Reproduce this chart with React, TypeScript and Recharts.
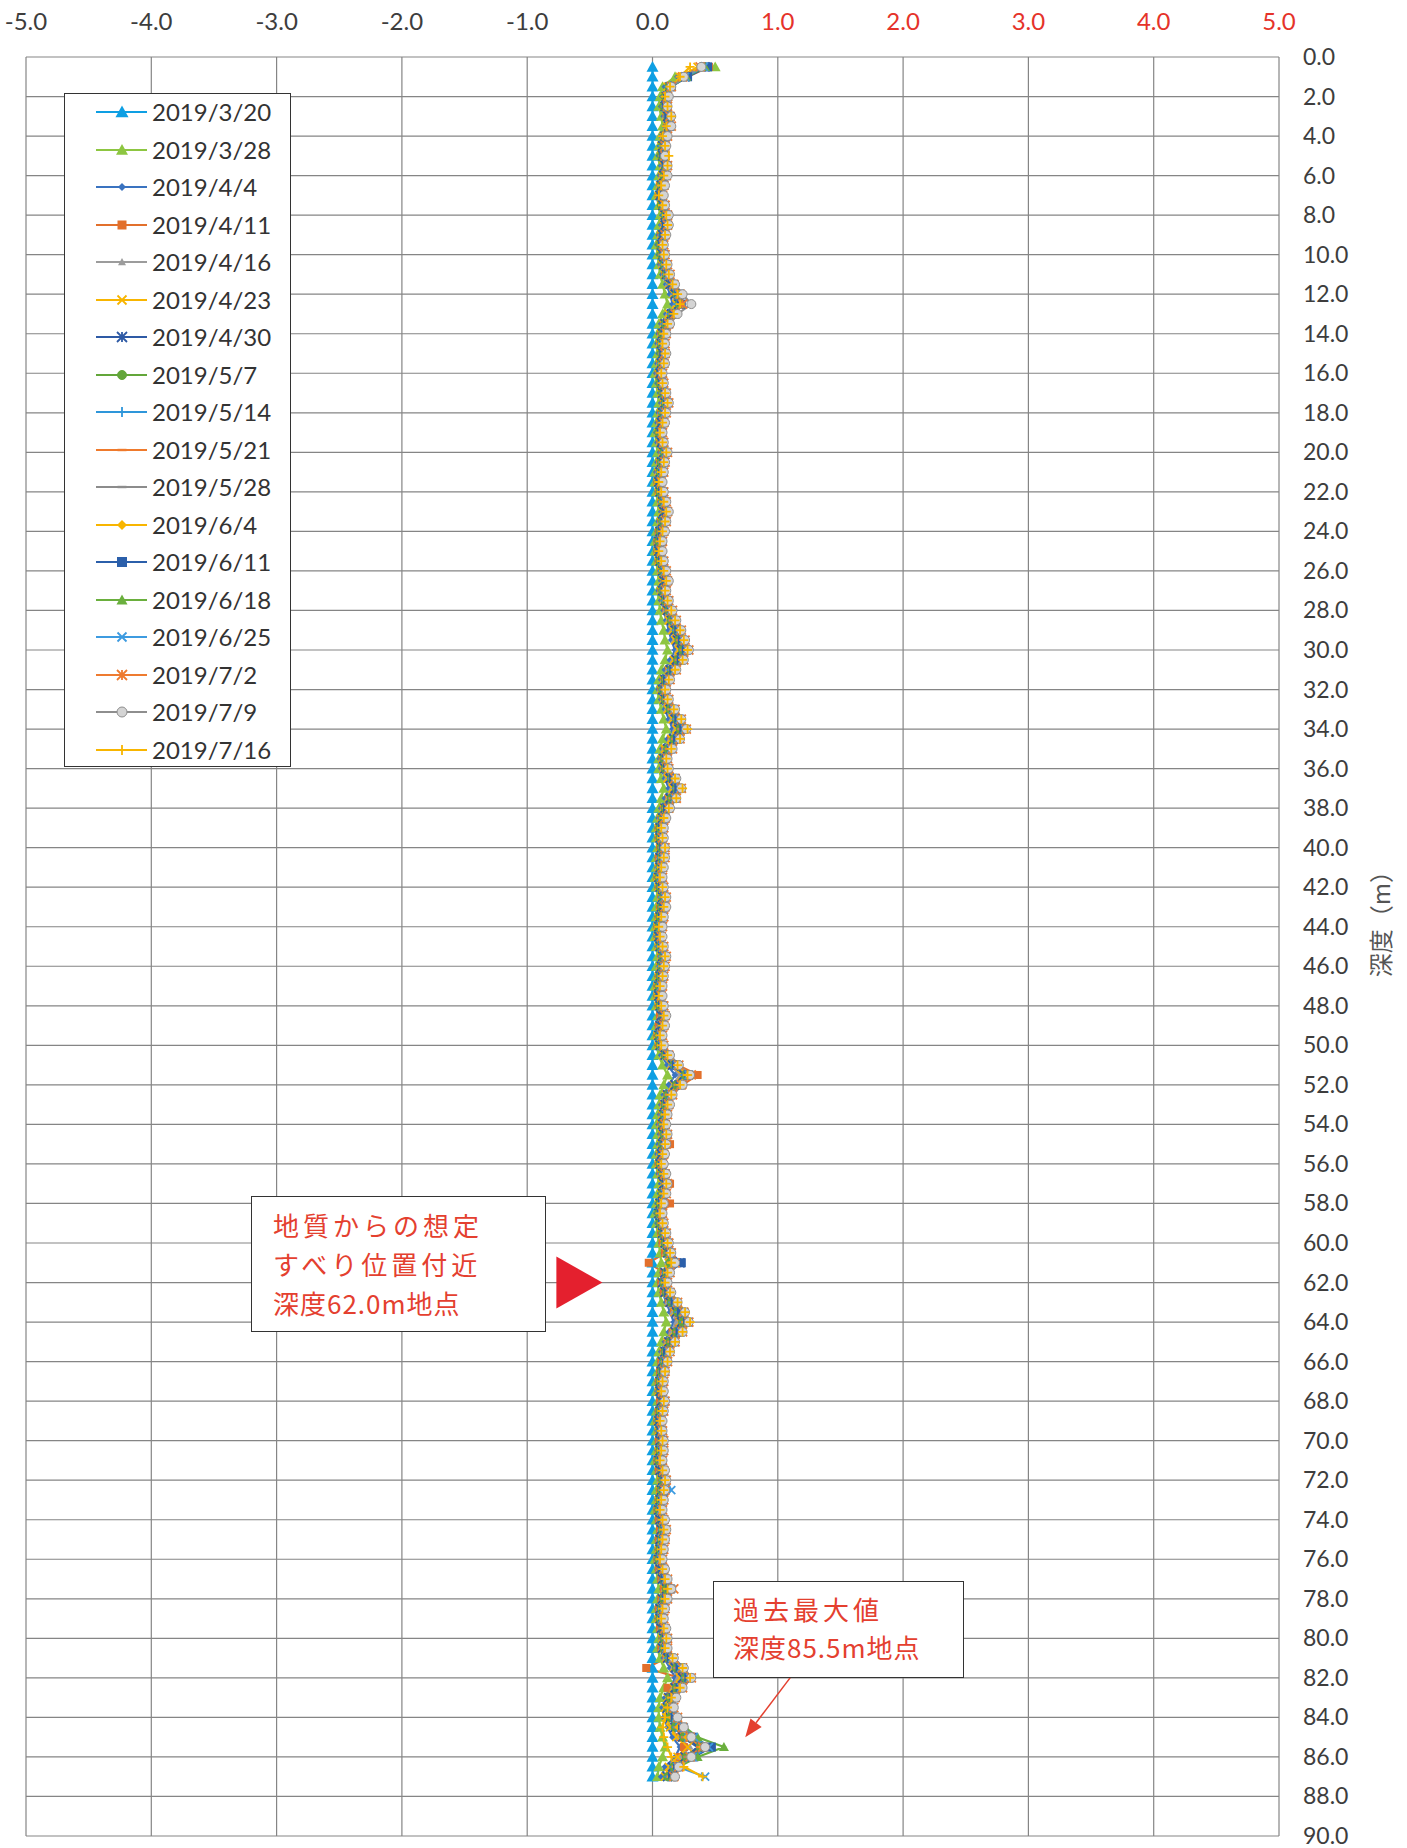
import React from 'react'
import { LineChart, Line, XAxis, YAxis, CartesianGrid, ReferenceDot, ReferenceLine } from 'recharts'

const FONT = 'Lato, "Noto Sans CJK JP", sans-serif'
const RED = '#E4402F'

// 測定深度 (m)
const DEPTHS = [
  0.5, 1, 1.5, 2, 2.5, 3, 3.5, 4, 4.5, 5, 5.5, 6, 6.5, 7, 7.5, 8, 8.5, 9, 9.5, 10,
  10.5, 11, 11.5, 12, 12.5, 13, 13.5, 14, 14.5, 15, 15.5, 16, 16.5, 17, 17.5, 18, 18.5, 19, 19.5, 20,
  20.5, 21, 21.5, 22, 22.5, 23, 23.5, 24, 24.5, 25, 25.5, 26, 26.5, 27, 27.5, 28, 28.5, 29, 29.5, 30,
  30.5, 31, 31.5, 32, 32.5, 33, 33.5, 34, 34.5, 35, 35.5, 36, 36.5, 37, 37.5, 38, 38.5, 39, 39.5, 40,
  40.5, 41, 41.5, 42, 42.5, 43, 43.5, 44, 44.5, 45, 45.5, 46, 46.5, 47, 47.5, 48, 48.5, 49, 49.5, 50,
  50.5, 51, 51.5, 52, 52.5, 53, 53.5, 54, 54.5, 55, 55.5, 56, 56.5, 57, 57.5, 58, 58.5, 59, 59.5, 60,
  60.5, 61, 61.5, 62, 62.5, 63, 63.5, 64, 64.5, 65, 65.5, 66, 66.5, 67, 67.5, 68, 68.5, 69, 69.5, 70,
  70.5, 71, 71.5, 72, 72.5, 73, 73.5, 74, 74.5, 75, 75.5, 76, 76.5, 77, 77.5, 78, 78.5, 79, 79.5, 80,
  80.5, 81, 81.5, 82, 82.5, 83, 83.5, 84, 84.5, 85, 85.5, 86, 86.5, 87,
]

const X_TICKS = [-5, -4, -3, -2, -1, 0, 1, 2, 3, 4, 5]
const Y_TICKS = [
  0, 2, 4, 6, 8, 10, 12, 14, 16, 18, 20, 22, 24, 26, 28, 30, 32, 34, 36, 38, 40, 42, 44,
  46, 48, 50, 52, 54, 56, 58, 60, 62, 64, 66, 68, 70, 72, 74, 76, 78, 80, 82, 84, 86, 88, 90,
]

// 累積変位量 (初回 3/20 を基準)
const V_0320 = [
  0, 0, 0, 0, 0, 0, 0, 0, 0, 0, 0, 0, 0, 0, 0, 0, 0, 0, 0, 0,
  0, 0, 0, 0, 0, 0, 0, 0, 0, 0, 0, 0, 0, 0, 0, 0, 0, 0, 0, 0,
  0, 0, 0, 0, 0, 0, 0, 0, 0, 0, 0, 0, 0, 0, 0, 0, 0, 0, 0, 0,
  0, 0, 0, 0, 0, 0, 0, 0, 0, 0, 0, 0, 0, 0, 0, 0, 0, 0, 0, 0,
  0, 0, 0, 0, 0, 0, 0, 0, 0, 0, 0, 0, 0, 0, 0, 0, 0, 0, 0, 0,
  0, 0, 0, 0, 0, 0, 0, 0, 0, 0, 0, 0, 0, 0, 0, 0, 0, 0, 0, 0,
  0, 0, 0, 0, 0, 0, 0, 0, 0, 0, 0, 0, 0, 0, 0, 0, 0, 0, 0, 0,
  0, 0, 0, 0, 0, 0, 0, 0, 0, 0, 0, 0, 0, 0, 0, 0, 0, 0, 0, 0,
  0, 0, 0, 0, 0, 0, 0, 0, 0, 0, 0, 0, 0, 0,
]
const V_0328 = [
  0.50, 0.18, 0.08, 0.06, 0.05, 0.07, 0.08, 0.06, 0.05, 0.04, 0.06, 0.05, 0.04, 0.03, 0.05, 0.06, 0.05, 0.04, 0.03, 0.04,
  0.05, 0.06, 0.08, 0.10, 0.12, 0.08, 0.05, 0.04, 0.03, 0.04, 0.03, 0.02, 0.03, 0.04, 0.05, 0.04, 0.03, 0.02, 0.03, 0.04,
  0.03, 0.02, 0.02, 0.03, 0.04, 0.05, 0.04, 0.03, 0.02, 0.02, 0.03, 0.04, 0.05, 0.04, 0.05, 0.06, 0.07, 0.09, 0.10, 0.12,
  0.10, 0.07, 0.05, 0.04, 0.05, 0.07, 0.09, 0.11, 0.08, 0.06, 0.05, 0.05, 0.07, 0.09, 0.07, 0.05, 0.04, 0.03, 0.03, 0.04,
  0.03, 0.03, 0.02, 0.03, 0.04, 0.03, 0.03, 0.02, 0.02, 0.03, 0.04, 0.03, 0.03, 0.02, 0.02, 0.03, 0.04, 0.03, 0.02, 0.03,
  0.05, 0.08, 0.12, 0.09, 0.06, 0.05, 0.04, 0.03, 0.04, 0.04, 0.03, 0.03, 0.04, 0.05, 0.04, 0.03, 0.02, 0.03, 0.04, 0.05,
  0.06, 0.07, 0.05, 0.04, 0.05, 0.07, 0.09, 0.11, 0.09, 0.07, 0.05, 0.04, 0.04, 0.03, 0.03, 0.04, 0.03, 0.02, 0.03, 0.03,
  0.03, 0.02, 0.03, 0.04, 0.03, 0.03, 0.02, 0.03, 0.04, 0.03, 0.03, 0.02, 0.03, 0.04, 0.05, 0.04, 0.03, 0.03, 0.04, 0.05,
  0.04, 0.06, 0.09, 0.12, 0.09, 0.06, 0.05, 0.05, 0.06, 0.08, 0.10, 0.08, 0.05, 0.04,
]
const V_0404 = [
  0.40, 0.20, 0.10, 0.08, 0.07, 0.09, 0.10, 0.07, 0.06, 0.05, 0.07, 0.06, 0.05, 0.04, 0.06, 0.08, 0.07, 0.05, 0.04, 0.05,
  0.06, 0.08, 0.11, 0.14, 0.16, 0.11, 0.07, 0.05, 0.04, 0.05, 0.04, 0.03, 0.04, 0.06, 0.07, 0.05, 0.04, 0.03, 0.04, 0.06,
  0.04, 0.03, 0.03, 0.04, 0.06, 0.07, 0.05, 0.04, 0.03, 0.03, 0.04, 0.06, 0.07, 0.05, 0.07, 0.09, 0.11, 0.13, 0.15, 0.18,
  0.14, 0.10, 0.07, 0.05, 0.07, 0.10, 0.13, 0.16, 0.12, 0.08, 0.06, 0.07, 0.10, 0.13, 0.10, 0.07, 0.05, 0.04, 0.04, 0.05,
  0.04, 0.04, 0.03, 0.04, 0.06, 0.05, 0.04, 0.03, 0.03, 0.04, 0.06, 0.05, 0.04, 0.03, 0.03, 0.04, 0.05, 0.04, 0.03, 0.04,
  0.07, 0.12, 0.18, 0.13, 0.09, 0.07, 0.06, 0.05, 0.06, 0.05, 0.04, 0.04, 0.05, 0.07, 0.06, 0.04, 0.03, 0.04, 0.06, 0.07,
  0.09, 0.12, 0.08, 0.06, 0.08, 0.11, 0.14, 0.17, 0.13, 0.10, 0.07, 0.06, 0.05, 0.04, 0.04, 0.05, 0.04, 0.03, 0.04, 0.04,
  0.04, 0.03, 0.04, 0.06, 0.05, 0.04, 0.03, 0.04, 0.05, 0.04, 0.04, 0.03, 0.04, 0.06, 0.08, 0.06, 0.04, 0.04, 0.05, 0.07,
  0.06, 0.09, 0.14, 0.18, 0.14, 0.10, 0.08, 0.09, 0.12, 0.16, 0.22, 0.18, 0.10, 0.07,
]
const V_0411 = [
  0.45, 0.28, 0.14, 0.10, 0.09, 0.11, 0.12, 0.09, 0.08, 0.07, 0.09, 0.08, 0.06, 0.05, 0.07, 0.10, 0.09, 0.07, 0.06, 0.07,
  0.08, 0.10, 0.14, 0.18, 0.20, 0.14, 0.09, 0.07, 0.06, 0.07, 0.06, 0.05, 0.06, 0.08, 0.09, 0.07, 0.06, 0.05, 0.06, 0.08,
  0.06, 0.05, 0.04, 0.05, 0.07, 0.09, 0.07, 0.05, 0.04, 0.04, 0.05, 0.07, 0.09, 0.07, 0.09, 0.11, 0.14, 0.17, 0.19, 0.22,
  0.18, 0.13, 0.09, 0.07, 0.09, 0.13, 0.17, 0.20, 0.15, 0.10, 0.08, 0.09, 0.13, 0.17, 0.13, 0.09, 0.07, 0.05, 0.05, 0.06,
  0.05, 0.05, 0.04, 0.05, 0.07, 0.06, 0.05, 0.04, 0.04, 0.05, 0.07, 0.06, 0.05, 0.04, 0.04, 0.05, 0.06, 0.05, 0.04, 0.05,
  0.10, 0.20, 0.36, 0.24, 0.12, 0.09, 0.08, 0.07, 0.08, 0.14, 0.06, 0.05, 0.07, 0.14, 0.08, 0.14, 0.07, 0.06, 0.07, 0.08,
  0.10, -0.03, 0.09, 0.07, 0.09, 0.13, 0.17, 0.21, 0.16, 0.12, 0.09, 0.07, 0.06, 0.05, 0.05, 0.06, 0.05, 0.04, 0.05, 0.05,
  0.05, 0.04, 0.05, 0.07, 0.06, 0.05, 0.04, 0.05, 0.06, 0.05, 0.05, 0.04, 0.05, 0.07, 0.09, 0.07, 0.05, 0.05, 0.06, 0.08,
  0.07, 0.11, -0.05, 0.22, 0.12, 0.14, 0.16, 0.18, 0.20, 0.22, 0.25, 0.22, 0.18, 0.15,
]
const V_0416 = [
  0.38, 0.24, 0.12, 0.09, 0.08, 0.10, 0.11, 0.08, 0.07, 0.06, 0.08, 0.07, 0.05, 0.05, 0.06, 0.09, 0.08, 0.06, 0.05, 0.06,
  0.07, 0.09, 0.12, 0.16, 0.18, 0.12, 0.08, 0.06, 0.05, 0.06, 0.05, 0.04, 0.05, 0.07, 0.08, 0.06, 0.05, 0.04, 0.05, 0.07,
  0.05, 0.04, 0.04, 0.05, 0.06, 0.08, 0.06, 0.05, 0.04, 0.04, 0.05, 0.06, 0.08, 0.06, 0.08, 0.10, 0.12, 0.15, 0.17, 0.20,
  0.16, 0.12, 0.08, 0.06, 0.08, 0.11, 0.15, 0.18, 0.14, 0.09, 0.07, 0.08, 0.11, 0.15, 0.12, 0.08, 0.06, 0.05, 0.05, 0.06,
  0.05, 0.04, 0.04, 0.05, 0.06, 0.06, 0.05, 0.04, 0.04, 0.05, 0.06, 0.05, 0.05, 0.04, 0.04, 0.05, 0.06, 0.05, 0.04, 0.05,
  0.08, 0.14, 0.22, 0.16, 0.10, 0.08, 0.07, 0.06, 0.07, 0.06, 0.05, 0.05, 0.06, 0.08, 0.07, 0.05, 0.04, 0.05, 0.07, 0.08,
  0.10, 0.12, 0.09, 0.07, 0.09, 0.12, 0.16, 0.19, 0.15, 0.11, 0.08, 0.07, 0.06, 0.05, 0.05, 0.06, 0.05, 0.04, 0.05, 0.05,
  0.05, 0.04, 0.05, 0.06, 0.06, 0.05, 0.04, 0.05, 0.06, 0.05, 0.05, 0.04, 0.05, 0.07, 0.09, 0.07, 0.05, 0.05, 0.06, 0.07,
  0.07, 0.10, 0.16, 0.20, 0.16, 0.12, 0.10, 0.12, 0.15, 0.20, 0.30, 0.22, 0.14, 0.10,
]
const V_0423 = [
  0.36, 0.22, 0.12, 0.10, 0.09, 0.11, 0.12, 0.09, 0.07, 0.07, 0.09, 0.08, 0.06, 0.05, 0.07, 0.09, 0.09, 0.07, 0.06, 0.07,
  0.08, 0.10, 0.13, 0.17, 0.19, 0.13, 0.09, 0.07, 0.06, 0.07, 0.06, 0.05, 0.06, 0.07, 0.09, 0.07, 0.06, 0.05, 0.06, 0.08,
  0.06, 0.05, 0.04, 0.05, 0.07, 0.08, 0.07, 0.06, 0.05, 0.04, 0.05, 0.07, 0.08, 0.07, 0.09, 0.11, 0.13, 0.16, 0.18, 0.21,
  0.17, 0.13, 0.09, 0.07, 0.09, 0.12, 0.16, 0.19, 0.15, 0.10, 0.08, 0.09, 0.12, 0.16, 0.13, 0.09, 0.07, 0.05, 0.05, 0.06,
  0.06, 0.05, 0.04, 0.05, 0.07, 0.06, 0.05, 0.04, 0.04, 0.05, 0.07, 0.06, 0.05, 0.04, 0.04, 0.05, 0.07, 0.06, 0.04, 0.05,
  0.09, 0.15, 0.24, 0.17, 0.11, 0.09, 0.08, 0.07, 0.08, 0.07, 0.06, 0.05, 0.07, 0.08, 0.07, 0.05, 0.05, 0.06, 0.07, 0.09,
  0.11, 0.13, 0.10, 0.08, 0.10, 0.14, 0.18, 0.22, 0.17, 0.12, 0.09, 0.08, 0.07, 0.06, 0.05, 0.07, 0.06, 0.04, 0.05, 0.06,
  0.05, 0.05, 0.06, 0.07, 0.06, 0.05, 0.05, 0.06, 0.07, 0.06, 0.05, 0.05, 0.06, 0.08, 0.10, 0.08, 0.06, 0.05, 0.07, 0.08,
  0.08, 0.11, 0.17, 0.22, 0.17, 0.12, 0.10, 0.11, 0.14, 0.19, 0.28, 0.20, 0.13, 0.10,
]
const V_0430 = [
  0.42, 0.26, 0.14, 0.11, 0.10, 0.12, 0.13, 0.10, 0.08, 0.08, 0.10, 0.09, 0.07, 0.06, 0.08, 0.10, 0.10, 0.08, 0.07, 0.08,
  0.09, 0.11, 0.14, 0.18, 0.21, 0.15, 0.10, 0.08, 0.07, 0.08, 0.07, 0.06, 0.07, 0.08, 0.10, 0.08, 0.07, 0.06, 0.07, 0.09,
  0.07, 0.06, 0.05, 0.06, 0.08, 0.09, 0.08, 0.06, 0.05, 0.05, 0.06, 0.08, 0.09, 0.08, 0.10, 0.12, 0.15, 0.18, 0.20, 0.23,
  0.19, 0.14, 0.10, 0.08, 0.10, 0.14, 0.18, 0.21, 0.17, 0.12, 0.09, 0.10, 0.14, 0.18, 0.14, 0.10, 0.08, 0.06, 0.06, 0.07,
  0.06, 0.06, 0.05, 0.06, 0.08, 0.07, 0.06, 0.05, 0.05, 0.06, 0.08, 0.07, 0.06, 0.05, 0.05, 0.06, 0.07, 0.06, 0.05, 0.06,
  0.10, 0.16, 0.25, 0.18, 0.12, 0.10, 0.09, 0.08, 0.09, 0.08, 0.07, 0.06, 0.08, 0.09, 0.08, 0.06, 0.05, 0.06, 0.08, 0.10,
  0.12, 0.22, 0.10, 0.08, 0.10, 0.14, 0.19, 0.23, 0.18, 0.13, 0.10, 0.08, 0.07, 0.06, 0.06, 0.07, 0.06, 0.05, 0.06, 0.06,
  0.06, 0.05, 0.06, 0.08, 0.07, 0.06, 0.05, 0.06, 0.07, 0.06, 0.06, 0.05, 0.06, 0.08, 0.11, 0.08, 0.06, 0.06, 0.07, 0.09,
  0.08, 0.12, 0.18, 0.24, 0.18, 0.13, 0.12, 0.14, 0.18, 0.24, 0.36, 0.26, 0.16, 0.12,
]
const V_0507 = [
  0.40, 0.25, 0.13, 0.10, 0.09, 0.12, 0.13, 0.10, 0.08, 0.07, 0.10, 0.09, 0.07, 0.06, 0.07, 0.10, 0.10, 0.08, 0.06, 0.07,
  0.09, 0.11, 0.15, 0.19, 0.21, 0.15, 0.10, 0.08, 0.07, 0.07, 0.07, 0.06, 0.06, 0.08, 0.10, 0.08, 0.07, 0.05, 0.07, 0.09,
  0.07, 0.06, 0.05, 0.06, 0.08, 0.10, 0.08, 0.06, 0.05, 0.05, 0.06, 0.08, 0.10, 0.08, 0.10, 0.13, 0.15, 0.19, 0.21, 0.24,
  0.20, 0.15, 0.10, 0.08, 0.10, 0.14, 0.19, 0.22, 0.17, 0.12, 0.09, 0.10, 0.15, 0.19, 0.15, 0.10, 0.08, 0.06, 0.06, 0.07,
  0.07, 0.06, 0.05, 0.06, 0.08, 0.07, 0.06, 0.05, 0.05, 0.06, 0.08, 0.07, 0.06, 0.05, 0.05, 0.06, 0.08, 0.07, 0.05, 0.06,
  0.10, 0.17, 0.26, 0.19, 0.12, 0.10, 0.09, 0.08, 0.09, 0.08, 0.07, 0.06, 0.08, 0.10, 0.08, 0.06, 0.05, 0.06, 0.08, 0.10,
  0.12, 0.14, 0.11, 0.09, 0.11, 0.15, 0.20, 0.24, 0.19, 0.14, 0.10, 0.09, 0.07, 0.06, 0.06, 0.08, 0.06, 0.05, 0.06, 0.07,
  0.06, 0.05, 0.07, 0.08, 0.07, 0.06, 0.05, 0.07, 0.08, 0.07, 0.06, 0.05, 0.07, 0.09, 0.11, 0.09, 0.07, 0.06, 0.08, 0.09,
  0.09, 0.13, 0.19, 0.26, 0.19, 0.14, 0.12, 0.14, 0.18, 0.25, 0.38, 0.27, 0.17, 0.12,
]
const V_0514 = [
  0.39, 0.24, 0.13, 0.11, 0.10, 0.12, 0.12, 0.09, 0.08, 0.08, 0.09, 0.09, 0.07, 0.06, 0.08, 0.10, 0.09, 0.08, 0.07, 0.08,
  0.09, 0.11, 0.14, 0.18, 0.20, 0.15, 0.10, 0.09, 0.07, 0.08, 0.07, 0.06, 0.07, 0.09, 0.10, 0.08, 0.07, 0.06, 0.07, 0.09,
  0.08, 0.06, 0.05, 0.07, 0.08, 0.10, 0.09, 0.07, 0.06, 0.05, 0.07, 0.08, 0.10, 0.09, 0.10, 0.13, 0.16, 0.19, 0.22, 0.25,
  0.21, 0.15, 0.11, 0.09, 0.11, 0.15, 0.19, 0.23, 0.18, 0.13, 0.10, 0.11, 0.15, 0.19, 0.16, 0.11, 0.08, 0.07, 0.07, 0.08,
  0.07, 0.06, 0.06, 0.07, 0.08, 0.08, 0.07, 0.06, 0.05, 0.06, 0.08, 0.07, 0.07, 0.06, 0.05, 0.07, 0.08, 0.07, 0.06, 0.07,
  0.11, 0.17, 0.26, 0.20, 0.13, 0.11, 0.09, 0.08, 0.10, 0.09, 0.07, 0.07, 0.08, 0.10, 0.09, 0.07, 0.06, 0.07, 0.09, 0.11,
  0.13, 0.15, 0.11, 0.09, 0.12, 0.16, 0.21, 0.25, 0.20, 0.15, 0.11, 0.09, 0.08, 0.07, 0.06, 0.08, 0.07, 0.05, 0.06, 0.07,
  0.07, 0.06, 0.07, 0.09, 0.08, 0.07, 0.06, 0.07, 0.08, 0.07, 0.07, 0.06, 0.07, 0.09, 0.12, 0.09, 0.07, 0.07, 0.08, 0.10,
  0.09, 0.13, 0.20, 0.26, 0.20, 0.15, 0.13, 0.15, 0.19, 0.26, 0.40, 0.28, 0.17, 0.13,
]
const V_0521 = [
  0.43, 0.27, 0.15, 0.11, 0.10, 0.13, 0.13, 0.10, 0.09, 0.08, 0.10, 0.10, 0.08, 0.06, 0.08, 0.11, 0.10, 0.09, 0.07, 0.08,
  0.10, 0.12, 0.15, 0.19, 0.22, 0.16, 0.11, 0.09, 0.08, 0.08, 0.08, 0.06, 0.07, 0.09, 0.11, 0.09, 0.07, 0.06, 0.07, 0.10,
  0.08, 0.07, 0.05, 0.07, 0.09, 0.10, 0.09, 0.07, 0.06, 0.05, 0.07, 0.09, 0.10, 0.09, 0.11, 0.13, 0.16, 0.20, 0.22, 0.25,
  0.21, 0.16, 0.11, 0.09, 0.11, 0.15, 0.20, 0.23, 0.18, 0.13, 0.10, 0.11, 0.16, 0.20, 0.16, 0.11, 0.09, 0.07, 0.07, 0.08,
  0.08, 0.07, 0.06, 0.07, 0.09, 0.08, 0.07, 0.06, 0.06, 0.07, 0.09, 0.08, 0.07, 0.06, 0.06, 0.07, 0.08, 0.07, 0.06, 0.07,
  0.11, 0.18, 0.27, 0.20, 0.13, 0.11, 0.10, 0.09, 0.10, 0.09, 0.08, 0.07, 0.09, 0.10, 0.09, 0.07, 0.06, 0.07, 0.09, 0.11,
  0.13, 0.15, 0.12, 0.10, 0.12, 0.17, 0.22, 0.26, 0.20, 0.15, 0.11, 0.10, 0.08, 0.07, 0.07, 0.08, 0.07, 0.06, 0.07, 0.07,
  0.07, 0.06, 0.07, 0.09, 0.08, 0.07, 0.06, 0.07, 0.09, 0.08, 0.07, 0.06, 0.07, 0.09, 0.12, 0.10, 0.08, 0.07, 0.08, 0.10,
  0.10, 0.14, 0.20, 0.27, 0.20, 0.15, 0.13, 0.16, 0.20, 0.26, 0.38, 0.28, 0.18, 0.14,
]
const V_0528 = [
  0.41, 0.26, 0.14, 0.12, 0.10, 0.12, 0.14, 0.11, 0.09, 0.09, 0.10, 0.10, 0.08, 0.07, 0.09, 0.11, 0.11, 0.09, 0.08, 0.08,
  0.10, 0.12, 0.15, 0.20, 0.22, 0.16, 0.11, 0.09, 0.08, 0.09, 0.08, 0.07, 0.08, 0.09, 0.11, 0.09, 0.08, 0.07, 0.08, 0.10,
  0.08, 0.07, 0.06, 0.07, 0.09, 0.11, 0.09, 0.08, 0.06, 0.06, 0.07, 0.09, 0.11, 0.09, 0.11, 0.14, 0.17, 0.20, 0.23, 0.26,
  0.22, 0.16, 0.12, 0.09, 0.11, 0.16, 0.20, 0.24, 0.19, 0.14, 0.10, 0.11, 0.16, 0.20, 0.17, 0.12, 0.09, 0.07, 0.07, 0.08,
  0.08, 0.07, 0.06, 0.07, 0.09, 0.09, 0.07, 0.06, 0.06, 0.07, 0.09, 0.08, 0.07, 0.06, 0.06, 0.07, 0.09, 0.08, 0.06, 0.07,
  0.11, 0.18, 0.27, 0.21, 0.14, 0.11, 0.10, 0.09, 0.10, 0.09, 0.08, 0.07, 0.09, 0.11, 0.09, 0.07, 0.06, 0.08, 0.09, 0.11,
  0.13, 0.16, 0.12, 0.10, 0.13, 0.17, 0.22, 0.27, 0.21, 0.16, 0.12, 0.10, 0.08, 0.07, 0.07, 0.08, 0.07, 0.06, 0.07, 0.08,
  0.07, 0.06, 0.08, 0.09, 0.08, 0.07, 0.06, 0.08, 0.09, 0.08, 0.07, 0.06, 0.08, 0.10, 0.13, 0.10, 0.08, 0.07, 0.09, 0.10,
  0.10, 0.14, 0.21, 0.27, 0.21, 0.16, 0.14, 0.16, 0.20, 0.27, 0.42, 0.29, 0.18, 0.14,
]
const V_0604 = [
  0.40, 0.25, 0.14, 0.11, 0.11, 0.13, 0.13, 0.10, 0.09, 0.09, 0.11, 0.10, 0.08, 0.07, 0.08, 0.11, 0.11, 0.09, 0.08, 0.09,
  0.10, 0.12, 0.16, 0.20, 0.22, 0.17, 0.12, 0.10, 0.08, 0.09, 0.08, 0.07, 0.08, 0.10, 0.11, 0.09, 0.08, 0.07, 0.08, 0.10,
  0.09, 0.07, 0.06, 0.08, 0.09, 0.11, 0.10, 0.08, 0.07, 0.06, 0.08, 0.09, 0.11, 0.10, 0.12, 0.14, 0.17, 0.21, 0.24, 0.27,
  0.23, 0.17, 0.12, 0.10, 0.12, 0.16, 0.21, 0.25, 0.20, 0.14, 0.11, 0.12, 0.17, 0.21, 0.17, 0.12, 0.09, 0.08, 0.07, 0.09,
  0.08, 0.07, 0.06, 0.08, 0.09, 0.09, 0.08, 0.06, 0.06, 0.07, 0.09, 0.08, 0.08, 0.06, 0.06, 0.08, 0.09, 0.08, 0.06, 0.07,
  0.12, 0.19, 0.28, 0.21, 0.14, 0.12, 0.10, 0.09, 0.11, 0.10, 0.08, 0.07, 0.09, 0.11, 0.09, 0.08, 0.07, 0.08, 0.10, 0.12,
  0.14, 0.16, 0.13, 0.10, 0.13, 0.18, 0.23, 0.27, 0.22, 0.16, 0.12, 0.10, 0.09, 0.07, 0.07, 0.09, 0.07, 0.06, 0.07, 0.08,
  0.07, 0.07, 0.08, 0.10, 0.09, 0.07, 0.06, 0.08, 0.09, 0.08, 0.07, 0.06, 0.08, 0.10, 0.13, 0.10, 0.08, 0.07, 0.09, 0.11,
  0.10, 0.15, 0.22, 0.28, 0.21, 0.16, 0.14, 0.16, 0.21, 0.28, 0.40, 0.30, 0.19, 0.15,
]
const V_0611 = [
  0.44, 0.28, 0.15, 0.12, 0.11, 0.13, 0.14, 0.11, 0.10, 0.09, 0.11, 0.11, 0.09, 0.07, 0.09, 0.12, 0.11, 0.09, 0.08, 0.09,
  0.11, 0.13, 0.16, 0.21, 0.23, 0.17, 0.12, 0.10, 0.09, 0.09, 0.09, 0.07, 0.08, 0.10, 0.12, 0.10, 0.08, 0.07, 0.08, 0.11,
  0.09, 0.08, 0.06, 0.08, 0.10, 0.11, 0.10, 0.08, 0.07, 0.06, 0.08, 0.10, 0.11, 0.10, 0.12, 0.15, 0.18, 0.21, 0.24, 0.27,
  0.23, 0.17, 0.12, 0.10, 0.12, 0.17, 0.21, 0.25, 0.20, 0.15, 0.11, 0.12, 0.17, 0.21, 0.18, 0.12, 0.10, 0.08, 0.08, 0.09,
  0.09, 0.08, 0.07, 0.08, 0.10, 0.09, 0.08, 0.07, 0.06, 0.08, 0.10, 0.09, 0.08, 0.07, 0.06, 0.08, 0.09, 0.08, 0.07, 0.08,
  0.12, 0.19, 0.29, 0.22, 0.15, 0.12, 0.11, 0.10, 0.11, 0.10, 0.08, 0.08, 0.10, 0.11, 0.10, 0.08, 0.07, 0.08, 0.10, 0.12,
  0.14, 0.23, 0.13, 0.11, 0.13, 0.18, 0.23, 0.28, 0.22, 0.17, 0.12, 0.11, 0.09, 0.08, 0.07, 0.09, 0.08, 0.06, 0.07, 0.08,
  0.08, 0.07, 0.08, 0.10, 0.09, 0.08, 0.07, 0.08, 0.10, 0.09, 0.08, 0.07, 0.08, 0.10, 0.14, 0.11, 0.09, 0.08, 0.09, 0.11,
  0.11, 0.15, 0.22, 0.29, 0.22, 0.17, 0.15, 0.18, 0.24, 0.32, 0.47, 0.33, 0.20, 0.16,
]
const V_0618 = [
  0.42, 0.27, 0.15, 0.12, 0.11, 0.14, 0.14, 0.11, 0.10, 0.09, 0.11, 0.11, 0.09, 0.08, 0.09, 0.12, 0.12, 0.10, 0.08, 0.09,
  0.11, 0.13, 0.17, 0.21, 0.23, 0.18, 0.12, 0.10, 0.09, 0.10, 0.09, 0.08, 0.08, 0.10, 0.12, 0.10, 0.09, 0.07, 0.09, 0.11,
  0.09, 0.08, 0.07, 0.08, 0.10, 0.12, 0.10, 0.09, 0.07, 0.07, 0.08, 0.10, 0.12, 0.10, 0.12, 0.15, 0.18, 0.22, 0.25, 0.28,
  0.24, 0.18, 0.13, 0.10, 0.12, 0.17, 0.22, 0.26, 0.21, 0.15, 0.11, 0.12, 0.18, 0.23, 0.18, 0.13, 0.10, 0.08, 0.08, 0.09,
  0.09, 0.08, 0.07, 0.08, 0.10, 0.10, 0.08, 0.07, 0.07, 0.08, 0.10, 0.09, 0.08, 0.07, 0.07, 0.08, 0.10, 0.09, 0.07, 0.08,
  0.12, 0.20, 0.29, 0.22, 0.15, 0.12, 0.11, 0.10, 0.11, 0.10, 0.09, 0.08, 0.10, 0.12, 0.10, 0.08, 0.07, 0.08, 0.10, 0.12,
  0.14, 0.17, 0.13, 0.11, 0.14, 0.19, 0.24, 0.28, 0.23, 0.17, 0.13, 0.11, 0.09, 0.08, 0.08, 0.09, 0.08, 0.07, 0.08, 0.08,
  0.08, 0.07, 0.09, 0.10, 0.09, 0.08, 0.07, 0.09, 0.10, 0.09, 0.08, 0.07, 0.09, 0.11, 0.14, 0.11, 0.09, 0.08, 0.10, 0.11,
  0.11, 0.16, 0.23, 0.30, 0.23, 0.17, 0.15, 0.19, 0.26, 0.36, 0.57, 0.36, 0.21, 0.16,
]
const V_0625 = [
  0.41, 0.26, 0.15, 0.12, 0.12, 0.14, 0.14, 0.11, 0.10, 0.10, 0.12, 0.11, 0.09, 0.08, 0.10, 0.12, 0.12, 0.10, 0.09, 0.10,
  0.11, 0.13, 0.17, 0.21, 0.24, 0.18, 0.13, 0.11, 0.09, 0.10, 0.09, 0.08, 0.09, 0.11, 0.12, 0.10, 0.09, 0.08, 0.09, 0.11,
  0.10, 0.08, 0.07, 0.09, 0.10, 0.12, 0.11, 0.09, 0.08, 0.07, 0.09, 0.10, 0.12, 0.11, 0.13, 0.15, 0.18, 0.22, 0.25, 0.28,
  0.24, 0.18, 0.13, 0.11, 0.13, 0.17, 0.22, 0.26, 0.21, 0.15, 0.12, 0.13, 0.18, 0.22, 0.18, 0.13, 0.10, 0.09, 0.08, 0.10,
  0.09, 0.08, 0.07, 0.09, 0.10, 0.10, 0.09, 0.07, 0.07, 0.08, 0.10, 0.09, 0.09, 0.07, 0.07, 0.09, 0.10, 0.09, 0.07, 0.08,
  0.13, 0.20, 0.29, 0.23, 0.15, 0.13, 0.11, 0.10, 0.12, 0.11, 0.09, 0.08, 0.10, 0.12, 0.10, 0.09, 0.08, 0.09, 0.11, 0.13,
  0.15, 0.17, 0.14, 0.11, 0.14, 0.19, 0.25, 0.29, 0.23, 0.18, 0.13, 0.11, 0.10, 0.08, 0.08, 0.10, 0.08, 0.07, 0.08, 0.09,
  0.08, 0.08, 0.09, 0.11, 0.15, 0.08, 0.07, 0.09, 0.10, 0.09, 0.08, 0.07, 0.09, 0.11, 0.15, 0.12, 0.09, 0.08, 0.10, 0.12,
  0.11, 0.16, 0.23, 0.30, 0.23, 0.18, 0.16, 0.19, 0.25, 0.33, 0.45, 0.32, 0.20, 0.42,
]
const V_0702 = [
  0.38, 0.24, 0.15, 0.12, 0.12, 0.14, 0.15, 0.12, 0.10, 0.10, 0.12, 0.11, 0.09, 0.08, 0.10, 0.12, 0.12, 0.10, 0.09, 0.10,
  0.12, 0.14, 0.17, 0.22, 0.24, 0.18, 0.13, 0.11, 0.10, 0.10, 0.09, 0.08, 0.09, 0.11, 0.13, 0.11, 0.09, 0.08, 0.09, 0.12,
  0.10, 0.09, 0.07, 0.09, 0.11, 0.12, 0.11, 0.09, 0.08, 0.07, 0.09, 0.11, 0.12, 0.11, 0.13, 0.16, 0.19, 0.23, 0.26, 0.29,
  0.25, 0.19, 0.14, 0.11, 0.13, 0.18, 0.23, 0.27, 0.22, 0.16, 0.12, 0.13, 0.18, 0.23, 0.19, 0.13, 0.10, 0.09, 0.08, 0.10,
  0.10, 0.08, 0.08, 0.09, 0.11, 0.10, 0.09, 0.08, 0.07, 0.09, 0.11, 0.10, 0.09, 0.08, 0.07, 0.09, 0.10, 0.09, 0.08, 0.09,
  0.13, 0.21, 0.31, 0.23, 0.16, 0.13, 0.12, 0.10, 0.12, 0.11, 0.09, 0.08, 0.10, 0.12, 0.11, 0.09, 0.08, 0.09, 0.11, 0.13,
  0.15, 0.18, 0.14, 0.12, 0.14, 0.20, 0.25, 0.29, 0.24, 0.18, 0.14, 0.12, 0.10, 0.09, 0.08, 0.10, 0.09, 0.07, 0.08, 0.09,
  0.09, 0.08, 0.09, 0.11, 0.10, 0.09, 0.08, 0.09, 0.11, 0.10, 0.09, 0.08, 0.09, 0.12, 0.17, 0.12, 0.10, 0.09, 0.10, 0.12,
  0.12, 0.17, 0.24, 0.31, 0.24, 0.18, 0.17, 0.20, 0.24, 0.30, 0.40, 0.30, 0.21, 0.17,
]
const V_0709 = [
  0.39, 0.25, 0.15, 0.13, 0.12, 0.15, 0.15, 0.12, 0.11, 0.10, 0.12, 0.12, 0.10, 0.09, 0.10, 0.13, 0.13, 0.11, 0.09, 0.10,
  0.12, 0.14, 0.18, 0.24, 0.31, 0.20, 0.14, 0.11, 0.10, 0.11, 0.10, 0.08, 0.09, 0.11, 0.13, 0.11, 0.10, 0.08, 0.09, 0.12,
  0.10, 0.09, 0.08, 0.09, 0.11, 0.13, 0.11, 0.10, 0.08, 0.08, 0.09, 0.11, 0.13, 0.11, 0.13, 0.16, 0.19, 0.23, 0.26, 0.29,
  0.25, 0.19, 0.14, 0.11, 0.13, 0.18, 0.23, 0.27, 0.22, 0.16, 0.12, 0.13, 0.19, 0.23, 0.19, 0.14, 0.11, 0.09, 0.09, 0.10,
  0.10, 0.09, 0.08, 0.09, 0.11, 0.11, 0.09, 0.08, 0.08, 0.09, 0.11, 0.10, 0.09, 0.08, 0.08, 0.09, 0.11, 0.10, 0.08, 0.09,
  0.14, 0.21, 0.30, 0.24, 0.16, 0.14, 0.12, 0.11, 0.12, 0.11, 0.10, 0.09, 0.11, 0.12, 0.11, 0.09, 0.08, 0.09, 0.11, 0.13,
  0.15, 0.18, 0.14, 0.12, 0.15, 0.20, 0.26, 0.29, 0.24, 0.18, 0.14, 0.12, 0.10, 0.09, 0.09, 0.10, 0.09, 0.08, 0.08, 0.09,
  0.09, 0.08, 0.10, 0.11, 0.10, 0.09, 0.08, 0.10, 0.11, 0.10, 0.09, 0.08, 0.10, 0.12, 0.15, 0.12, 0.10, 0.09, 0.11, 0.12,
  0.12, 0.17, 0.25, 0.31, 0.24, 0.19, 0.17, 0.20, 0.25, 0.31, 0.42, 0.31, 0.21, 0.18,
]
const V_0716 = [
  0.30, 0.22, 0.14, 0.10, 0.12, 0.15, 0.11, 0.08, 0.10, 0.13, 0.12, 0.09, 0.07, 0.05, 0.08, 0.11, 0.12, 0.10, 0.08, 0.09,
  0.11, 0.13, 0.16, 0.20, 0.22, 0.17, 0.12, 0.09, 0.08, 0.10, 0.09, 0.07, 0.08, 0.10, 0.12, 0.10, 0.08, 0.06, 0.08, 0.11,
  0.09, 0.07, 0.05, 0.07, 0.09, 0.11, 0.10, 0.08, 0.06, 0.05, 0.07, 0.09, 0.11, 0.10, 0.12, 0.15, 0.18, 0.22, 0.25, 0.28,
  0.24, 0.18, 0.13, 0.10, 0.12, 0.17, 0.23, 0.28, 0.22, 0.15, 0.11, 0.12, 0.18, 0.24, 0.19, 0.13, 0.09, 0.07, 0.08, 0.10,
  0.09, 0.07, 0.06, 0.08, 0.10, 0.09, 0.07, 0.05, 0.06, 0.08, 0.10, 0.09, 0.08, 0.06, 0.05, 0.07, 0.09, 0.08, 0.06, 0.07,
  0.12, 0.20, 0.28, 0.22, 0.15, 0.12, 0.10, 0.09, 0.11, 0.10, 0.08, 0.07, 0.09, 0.11, 0.09, 0.07, 0.06, 0.08, 0.10, 0.12,
  0.14, 0.15, 0.12, 0.10, 0.14, 0.20, 0.26, 0.30, 0.24, 0.18, 0.14, 0.12, 0.10, 0.08, 0.07, 0.09, 0.08, 0.06, 0.07, 0.08,
  0.07, 0.06, 0.08, 0.10, 0.09, 0.07, 0.06, 0.08, 0.09, 0.08, 0.07, 0.06, 0.08, 0.10, 0.12, 0.10, 0.08, 0.07, 0.09, 0.11,
  0.10, 0.16, 0.24, 0.30, 0.22, 0.15, 0.12, 0.10, 0.08, 0.09, 0.12, 0.15, 0.25, 0.40,
]

type MarkerShape = 'triangle' | 'diamond' | 'square' | 'cross' | 'star' | 'circle' | 'plus' | 'dash'

interface SeriesDef {
  key: string
  name: string
  values: number[]
  color: string
  shape: MarkerShape
  size: number
  fill?: string
}

const SERIES: SeriesDef[] = [
  { key: 's0320', name: '2019/3/20', values: V_0320, color: '#0E9FE3', shape: 'triangle', size: 12 },
  { key: 's0328', name: '2019/3/28', values: V_0328, color: '#8DC641', shape: 'triangle', size: 11 },
  { key: 's0404', name: '2019/4/4', values: V_0404, color: '#3A73C0', shape: 'diamond', size: 7 },
  { key: 's0411', name: '2019/4/11', values: V_0411, color: '#E2702C', shape: 'square', size: 8 },
  { key: 's0416', name: '2019/4/16', values: V_0416, color: '#9C9C9C', shape: 'triangle', size: 7 },
  { key: 's0423', name: '2019/4/23', values: V_0423, color: '#F8B500', shape: 'cross', size: 8 },
  { key: 's0430', name: '2019/4/30', values: V_0430, color: '#2E5AA5', shape: 'star', size: 9 },
  { key: 's0507', name: '2019/5/7', values: V_0507, color: '#63A63A', shape: 'circle', size: 8 },
  { key: 's0514', name: '2019/5/14', values: V_0514, color: '#2E96DA', shape: 'plus', size: 9 },
  { key: 's0521', name: '2019/5/21', values: V_0521, color: '#EF7A2C', shape: 'dash', size: 8 },
  { key: 's0528', name: '2019/5/28', values: V_0528, color: '#8C8C8C', shape: 'dash', size: 8 },
  { key: 's0604', name: '2019/6/4', values: V_0604, color: '#F8B500', shape: 'diamond', size: 9 },
  { key: 's0611', name: '2019/6/11', values: V_0611, color: '#2B5FAA', shape: 'square', size: 9 },
  { key: 's0618', name: '2019/6/18', values: V_0618, color: '#6AAF3D', shape: 'triangle', size: 10 },
  { key: 's0625', name: '2019/6/25', values: V_0625, color: '#3D9BE0', shape: 'cross', size: 8 },
  { key: 's0702', name: '2019/7/2', values: V_0702, color: '#EE7B30', shape: 'star', size: 9 },
  { key: 's0709', name: '2019/7/9', values: V_0709, color: '#8E8E8E', shape: 'circle', size: 9, fill: '#D4D4D4' },
  { key: 's0716', name: '2019/7/16', values: V_0716, color: '#F8B500', shape: 'plus', size: 9 },
]

function Marker({ cx, cy, shape, color, size, fill }: {
  cx: number; cy: number; shape: MarkerShape; color: string; size: number; fill?: string
}) {
  const h = size / 2
  const f = fill ?? color
  switch (shape) {
    case 'triangle':
      return <polygon points={`${cx},${cy - h} ${cx + h},${cy + h * 0.8} ${cx - h},${cy + h * 0.8}`} fill={f} />
    case 'diamond':
      return <polygon points={`${cx},${cy - h} ${cx + h},${cy} ${cx},${cy + h} ${cx - h},${cy}`} fill={f} />
    case 'square':
      return <rect x={cx - h} y={cy - h} width={size} height={size} fill={f} />
    case 'circle':
      return <circle cx={cx} cy={cy} r={h} fill={f} stroke={color} strokeWidth={1} />
    case 'cross':
      return <path d={`M${cx - h},${cy - h}L${cx + h},${cy + h}M${cx - h},${cy + h}L${cx + h},${cy - h}`} stroke={color} strokeWidth={1.8} />
    case 'star':
      return (
        <path
          d={`M${cx - h},${cy - h}L${cx + h},${cy + h}M${cx - h},${cy + h}L${cx + h},${cy - h}M${cx},${cy - h}L${cx},${cy + h}`}
          stroke={color}
          strokeWidth={1.8}
        />
      )
    case 'plus':
      return <path d={`M${cx},${cy - h}L${cx},${cy + h}M${cx - h},${cy}L${cx + h},${cy}`} stroke={color} strokeWidth={1.8} />
    case 'dash':
      return <path d={`M${cx - h},${cy}L${cx + h},${cy}`} stroke={color} strokeWidth={2.4} />
  }
}

const renderDot = (s: SeriesDef) => (p: any) => {
  if (p.cx == null || p.cy == null) return <g key={p.index} />
  return <Marker key={p.index} cx={p.cx} cy={p.cy} shape={s.shape} color={s.color} size={s.size} fill={s.fill} />
}

function XTick({ x, y, payload }: any) {
  const v = payload.value as number
  return (
    <text x={x} y={y} textAnchor="middle" fontSize={24} fontFamily={FONT} fill={v > 0 ? '#E5332A' : '#3d3d3d'}>
      {v.toFixed(1)}
    </text>
  )
}

function YTick({ x, y, payload }: any) {
  return (
    <text x={x} y={y} dy={8} textAnchor="start" fontSize={23} fontFamily={FONT} fill="#3d3d3d">
      {(payload.value as number).toFixed(1)}
    </text>
  )
}

// 想定すべり位置を示す三角
function SlipMark({ cx, cy }: any) {
  return <polygon points={`${cx},${cy} ${cx - 46},${cy - 26} ${cx - 46},${cy + 26}`} fill="#E4202E" />
}

function Arrow({ x1, y1, x2, y2 }: any) {
  const ang = Math.atan2(y2 - y1, x2 - x1)
  const len = 18
  const half = 7
  const bx = x2 - len * Math.cos(ang)
  const by = y2 - len * Math.sin(ang)
  const px = -Math.sin(ang) * half
  const py = Math.cos(ang) * half
  return (
    <g>
      <line x1={x1} y1={y1} x2={bx} y2={by} stroke={RED} strokeWidth={1.5} />
      <polygon points={`${x2},${y2} ${bx + px},${by + py} ${bx - px},${by - py}`} fill={RED} />
    </g>
  )
}

function LegendBox() {
  return (
    <div
      style={{
        position: 'absolute', left: 64, top: 93, width: 227, height: 674, boxSizing: 'border-box',
        border: '1.5px solid #333', background: '#fff',
      }}
    >
      {SERIES.map((s, i) => (
        <div key={s.key} style={{ position: 'absolute', left: 0, top: 18 + 37.5 * i - 15, height: 30, display: 'flex', alignItems: 'center' }}>
          <svg width={84} height={30} style={{ display: 'block' }}>
            <line x1={31} y1={15} x2={82} y2={15} stroke={s.color} strokeWidth={2} />
            <Marker cx={57} cy={15} shape={s.shape} color={s.color} size={s.size + 1} fill={s.fill} />
          </svg>
          <span style={{ fontSize: 24, lineHeight: '30px', color: '#333', marginLeft: 3, whiteSpace: 'nowrap' }}>{s.name}</span>
        </div>
      ))}
    </div>
  )
}

const noteStyle: React.CSSProperties = {
  position: 'absolute', boxSizing: 'border-box', border: '1.5px solid #333', background: '#fff',
  color: RED, fontFamily: '"Noto Sans CJK JP", sans-serif', whiteSpace: 'nowrap',
  fontSize: 26, letterSpacing: 4,
}

export default function App() {
  const rows = DEPTHS.map((depth, i) => {
    const row: Record<string, number> = { depth }
    SERIES.forEach((s) => {
      row[s.key] = s.values[i]
    })
    return row
  })

  return (
    <div style={{ position: 'absolute', left: 0, top: 0, width: 1407, height: 1848, background: '#fff', overflow: 'hidden', fontFamily: FONT }}>
      <LineChart width={1407} height={1848} data={rows} layout="vertical" margin={{ top: 0, right: 0, bottom: 12, left: 26 }}>
        <CartesianGrid stroke="#858585" strokeWidth={1.2} />
        <XAxis
          type="number"
          orientation="top"
          domain={[-5, 5]}
          ticks={X_TICKS}
          interval={0}
          height={57}
          axisLine={false}
          tickLine={false}
          tickMargin={21}
          tick={<XTick />}
          allowDataOverflow
        />
        {/* 縦向きレイアウトでは深度 0 が上端に来る */}
        <YAxis
          type="number"
          dataKey="depth"
          orientation="right"
          domain={[0, 90]}
          ticks={Y_TICKS}
          interval={0}
          width={128}
          axisLine={false}
          tickLine={false}
          tickMargin={18}
          tick={<YTick />}
          allowDataOverflow
        />
        {SERIES.map((s) => (
          <Line
            key={s.key}
            dataKey={s.key}
            name={s.name}
            type="linear"
            stroke={s.color}
            strokeWidth={2.2}
            dot={renderDot(s)}
            activeDot={false}
            isAnimationActive={false}
          />
        ))}
        <ReferenceDot x={-0.4} y={62} shape={SlipMark} />
        <ReferenceLine segment={[{ x: 1.11, y: 81.9 }, { x: 0.74, y: 85.0 }]} shape={Arrow} />
      </LineChart>

      <LegendBox />

      <div style={{ ...noteStyle, left: 251, top: 1196, width: 295, height: 136, padding: '8px 0 0 21px', lineHeight: '39px' }}>
        <div>地質からの想定</div>
        <div>すべり位置付近</div>
        <div style={{ letterSpacing: 1 }}>深度62.0m地点</div>
      </div>
      <div style={{ ...noteStyle, left: 713, top: 1581, width: 251, height: 97, padding: '8px 0 0 19px', lineHeight: '38px' }}>
        <div>過去最大値</div>
        <div style={{ letterSpacing: 1 }}>深度85.5m地点</div>
      </div>

      <svg width={1407} height={1848} style={{ position: 'absolute', left: 0, top: 0, pointerEvents: 'none' }}>
        <text
          x={1379}
          y={918}
          transform="rotate(-90 1379 918)"
          textAnchor="middle"
          dominantBaseline="central"
          fontSize={24}
          fontFamily='"Noto Sans CJK JP", sans-serif'
          fill="#555"
        >
          深度（m）
        </text>
      </svg>
    </div>
  )
}
